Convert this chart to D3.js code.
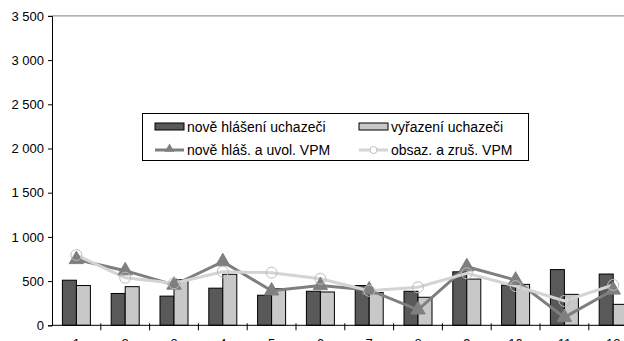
<!DOCTYPE html>
<html><head><meta charset="utf-8">
<script src="https://cdn.jsdelivr.net/npm/d3@7"></script>
<style>body{margin:0;background:#fff;overflow:hidden}svg{display:block}</style>
</head><body><svg id="c" width="624" height="341"></svg>
<script>
const categories = ["1","2","3","4","5","6","7","8","9","10","11","12"];
const noveHlaseni = [510, 360, 330, 420, 340, 385, 450, 385, 605, 455, 630, 580];
const vyrazeni = [450, 437, 515, 577, 414, 377, 370, 317, 523, 463, 350, 237];
const noveVPM = [745, 618, 456, 720, 390, 450, 400, 175, 663, 512, 90, 400];
const obsazVPM = [795, 538, 475, 606, 595, 527, 390, 430, 588, 444, 275, 456];
const yTicks = [0, 500, 1000, 1500, 2000, 2500, 3000, 3500];
const seriesNames = ["nově hlášení uchazeči", "vyřazení uchazeči", "nově hláš. a uvol. VPM", "obsaz. a zruš. VPM"];

const svg = d3.select("#c");
const font = "Liberation Sans, Arial, sans-serif";
const x = d3.scaleBand().domain(categories).range([52, 637.6]);
const y = d3.scaleLinear().domain([0, 3500]).range([325.3, 15.9]);

// top gridline
svg.append("line").attr("x1", 52).attr("x2", 624).attr("y1", y(3500)).attr("y2", y(3500))
  .attr("stroke", "#808080").attr("stroke-width", 1);

const bw = 14;
const bx = i => x.bandwidth()/2 - bw + i*bw;

const g = svg.append("g");
g.selectAll("rect.d").data(noveHlaseni).join("rect")
  .attr("x", (d,i) => x(categories[i]) + bx(0)).attr("width", bw)
  .attr("y", d => y(d)).attr("height", d => y(0) - y(d))
  .attr("fill", "#595959").attr("stroke", "#000").attr("stroke-width", 1);
g.selectAll("rect.l").data(vyrazeni).join("rect")
  .attr("x", (d,i) => x(categories[i]) + bx(1)).attr("width", bw)
  .attr("y", d => y(d)).attr("height", d => y(0) - y(d))
  .attr("fill", "#c8c8c8").attr("stroke", "#000").attr("stroke-width", 1);

const cx = i => x(categories[i]) + x.bandwidth()/2;
const line = d3.line().x((d,i) => cx(i)).y(d => y(d));

svg.append("path").datum(noveVPM).attr("d", line).attr("fill", "none")
  .attr("stroke", "#7f7f7f").attr("stroke-width", 3);
svg.append("path").datum(obsazVPM).attr("d", line).attr("fill", "none")
  .attr("stroke", "#d4d4d4").attr("stroke-width", 3);

const tri = d3.symbol().type(d3.symbolTriangle).size(90);
svg.selectAll("path.t").data(noveVPM).join("path")
  .attr("d", tri).attr("transform", (d,i) => `translate(${cx(i)},${y(d)})`)
  .attr("fill", "#7f7f7f").attr("stroke", "#7f7f7f");
svg.selectAll("circle.c").data(obsazVPM).join("circle")
  .attr("cx", (d,i) => cx(i)).attr("cy", d => y(d)).attr("r", 5.5)
  .attr("fill", "none").attr("stroke", "#bdbdbd").attr("stroke-width", 1);

// axes
const yAxis = d3.axisLeft(y).tickValues(yTicks).tickSize(4).tickPadding(4)
  .tickFormat(d => d3.format(",")(d).replace(/,/g, " "));
const ya = svg.append("g").attr("transform", "translate(52,0)").call(yAxis);
ya.select(".domain").attr("stroke", "#000");
ya.selectAll("line").attr("stroke", "#000");
ya.selectAll("text").attr("font-family", font).attr("font-size", 13).attr("fill", "#000");

const xa = svg.append("g").attr("transform", `translate(0,${y(0)})`);
xa.append("line").attr("x1", 52).attr("x2", 637.6).attr("stroke", "#000");
xa.selectAll("line.tk").data(categories).join("line")
  .attr("x1", d => x(d) + x.bandwidth()).attr("x2", d => x(d) + x.bandwidth())
  .attr("y1", -2).attr("y2", 5).attr("stroke", "#000");
xa.selectAll("text").data(categories).join("text")
  .attr("x", d => x(d) + x.bandwidth()/2).attr("y", 22.5)
  .attr("text-anchor", "middle").attr("font-family", font).attr("font-size", 13)
  .text(d => d);

// legend
const lg = svg.append("g");
lg.append("rect").attr("x", 142.5).attr("y", 113.5).attr("width", 386).attr("height", 47)
  .attr("fill", "#fff").attr("stroke", "#000");
const rows = [
  {name: seriesNames[0], type: "bar", fill: "#595959", lx: 155, ly: 127},
  {name: seriesNames[1], type: "bar", fill: "#c8c8c8", lx: 359, ly: 127},
  {name: seriesNames[2], type: "tri", color: "#7f7f7f", lx: 155, ly: 150},
  {name: seriesNames[3], type: "circ", color: "#d4d4d4", lx: 359, ly: 150}
];
rows.forEach(r => {
  if (r.type === "bar") {
    lg.append("rect").attr("x", r.lx).attr("y", r.ly - 4).attr("width", 29).attr("height", 7)
      .attr("fill", r.fill).attr("stroke", "#000");
  } else {
    lg.append("line").attr("x1", r.lx).attr("x2", r.lx + 29).attr("y1", r.ly).attr("y2", r.ly)
      .attr("stroke", r.color).attr("stroke-width", 3);
    if (r.type === "tri") {
      lg.append("path").attr("d", d3.symbol().type(d3.symbolTriangle).size(40))
        .attr("transform", `translate(${r.lx + 14.5},${r.ly - 1})`).attr("fill", r.color);
    } else {
      lg.append("circle").attr("cx", r.lx + 14.5).attr("cy", r.ly).attr("r", 3.5)
        .attr("fill", "#fff").attr("stroke", "#c0c0c0");
    }
  }
  lg.append("text").attr("x", r.lx + 32).attr("y", r.ly + 5)
    .attr("font-family", font).attr("font-size", 14).attr("fill", "#000").text(r.name);
});
</script>
</body></html>
